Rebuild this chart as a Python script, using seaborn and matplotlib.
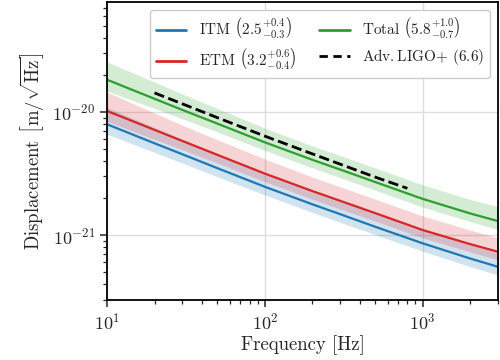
import numpy as np
import pandas as pd
import matplotlib
matplotlib.use("Agg")
import matplotlib.pyplot as plt
import matplotlib.ticker as mticker
import seaborn as sns
from matplotlib.lines import Line2D

# ---- data ----
freq = [10, 20, 30, 50, 100, 200, 300, 500, 1000, 2000, 3000]
itm = [7.95e-21, 5.57e-21, 4.54e-21, 3.50e-21, 2.47e-21, 1.78e-21, 1.48e-21,
       1.17e-21, 8.58e-22, 6.46e-22, 5.53e-22]
etm = [1.02e-20, 7.16e-21, 5.82e-21, 4.49e-21, 3.16e-21, 2.28e-21, 1.90e-21,
       1.51e-21, 1.10e-21, 8.45e-22, 7.33e-22]
total = [1.83e-20, 1.28e-20, 1.04e-20, 8.05e-21, 5.67e-21, 4.09e-21, 3.41e-21,
         2.70e-21, 1.97e-21, 1.50e-21, 1.30e-21]

itm_hi = [1.09e-20, 7.5e-21, 6.0e-21, 4.6e-21, 3.2e-21, 2.3e-21, 1.92e-21,
          1.52e-21, 1.12e-21, 8.4e-22, 7.2e-22]
itm_lo = [6.6e-21, 4.7e-21, 3.85e-21, 2.98e-21, 2.12e-21, 1.53e-21, 1.27e-21,
          1.01e-21, 7.4e-22, 5.55e-22, 4.75e-22]
etm_hi = [1.45e-20, 9.8e-21, 7.8e-21, 5.95e-21, 4.15e-21, 2.96e-21, 2.47e-21,
          1.96e-21, 1.43e-21, 1.10e-21, 9.5e-22]
etm_lo = [8.4e-21, 6.0e-21, 4.95e-21, 3.85e-21, 2.72e-21, 1.96e-21, 1.63e-21,
          1.30e-21, 9.5e-22, 7.3e-22, 6.3e-22]
tot_hi = [2.55e-20, 1.75e-20, 1.40e-20, 1.07e-20, 7.4e-21, 5.3e-21, 4.43e-21,
          3.51e-21, 2.56e-21, 1.95e-21, 1.70e-21]
tot_lo = [1.48e-20, 1.07e-20, 8.8e-21, 6.9e-21, 4.88e-21, 3.52e-21, 2.93e-21,
          2.32e-21, 1.69e-21, 1.29e-21, 1.11e-21]

ligo_freq = [20, 50, 100, 200, 500, 800]
ligo = [1.43e-20, 9.0e-21, 6.37e-21, 4.57e-21, 2.96e-21, 2.40e-21]

labels = [r'ITM $\left(2.5^{+0.4}_{-0.3}\right)$',
          r'ETM $\left(3.2^{+0.6}_{-0.4}\right)$',
          r'Total $\left(5.8^{+1.0}_{-0.7}\right)$',
          r'Adv.$\,$LIGO+ (6.6)']

x_major = [10, 100, 1000]
y_major = [1e-21, 1e-20]

# ---- style ----
sns.set_style("ticks")
plt.rcParams['font.family'] = ['serif']
plt.rcParams['font.serif'] = ['cmr10', 'DejaVu Serif']
plt.rcParams['mathtext.fontset'] = 'cm'
plt.rcParams['axes.formatter.use_mathtext'] = True
plt.rcParams['axes.unicode_minus'] = False

fig = plt.figure(figsize=(5.0, 3.6), dpi=100)
ax = fig.add_axes([0.214, 0.168, 0.782, 0.826])

colors = ['#1f77b4', '#d62728', '#2ca02c']
series = [(itm, itm_lo, itm_hi), (etm, etm_lo, etm_hi), (total, tot_lo, tot_hi)]

df = pd.DataFrame({
    'f': freq * 3,
    'v': itm + etm + total,
    's': [labels[0]] * len(freq) + [labels[1]] * len(freq) + [labels[2]] * len(freq),
})
for (vals, lo, hi), c in zip(series, colors):
    ax.fill_between(freq, lo, hi, color=c, alpha=0.2, linewidth=0)
sns.lineplot(data=df, x='f', y='v', hue='s', palette=colors, lw=1.6, ax=ax,
             legend=False)
sns.lineplot(x=ligo_freq, y=ligo, color='black', ls='--', lw=2.0, ax=ax,
             dashes=[(3, 2)])

ax.set_xscale('log')
ax.set_yscale('log')
ax.set_xlim(10, 3000)
ax.set_ylim(3.0e-22, 7.8e-20)
ax.set_xticks(x_major)
ax.set_yticks(y_major)
ax.xaxis.set_major_formatter(mticker.LogFormatterSciNotation())
ax.yaxis.set_major_formatter(mticker.LogFormatterSciNotation())
ax.xaxis.set_minor_locator(mticker.LogLocator(base=10, subs=np.arange(2, 10)))
ax.yaxis.set_minor_locator(mticker.LogLocator(base=10, subs=np.arange(2, 10)))
ax.xaxis.set_minor_formatter(mticker.NullFormatter())
ax.yaxis.set_minor_formatter(mticker.NullFormatter())
ax.grid(True, which='major', color='#dddddd', lw=1.0)
ax.set_axisbelow(True)
for sp in ax.spines.values():
    sp.set_linewidth(1.3)
    sp.set_color('black')
ax.tick_params(which='major', length=5, width=1.1, labelsize=13)
ax.tick_params(which='minor', length=3, width=0.9)

ax.set_xlabel('Frequency [Hz]', fontsize=13.5, labelpad=2)
ax.set_ylabel(r'Displacement $\left[\mathrm{m}/\sqrt{\mathrm{Hz}}\right]$',
              fontsize=13.5, labelpad=4)

handles = [Line2D([], [], color=colors[0], lw=2),
           Line2D([], [], color=colors[1], lw=2),
           Line2D([], [], color=colors[2], lw=2),
           Line2D([], [], color='black', lw=2, ls='--', dashes=(3, 2))]
leg = ax.legend(handles, labels, ncol=2, loc='upper right', fontsize=11,
                frameon=True, fancybox=True, framealpha=1.0,
                edgecolor='#cccccc', handlelength=2.0, columnspacing=1.5,
                borderaxespad=0.5, labelspacing=0.4)
leg.get_frame().set_linewidth(1.0)

fig.savefig('out.png', dpi=100)
